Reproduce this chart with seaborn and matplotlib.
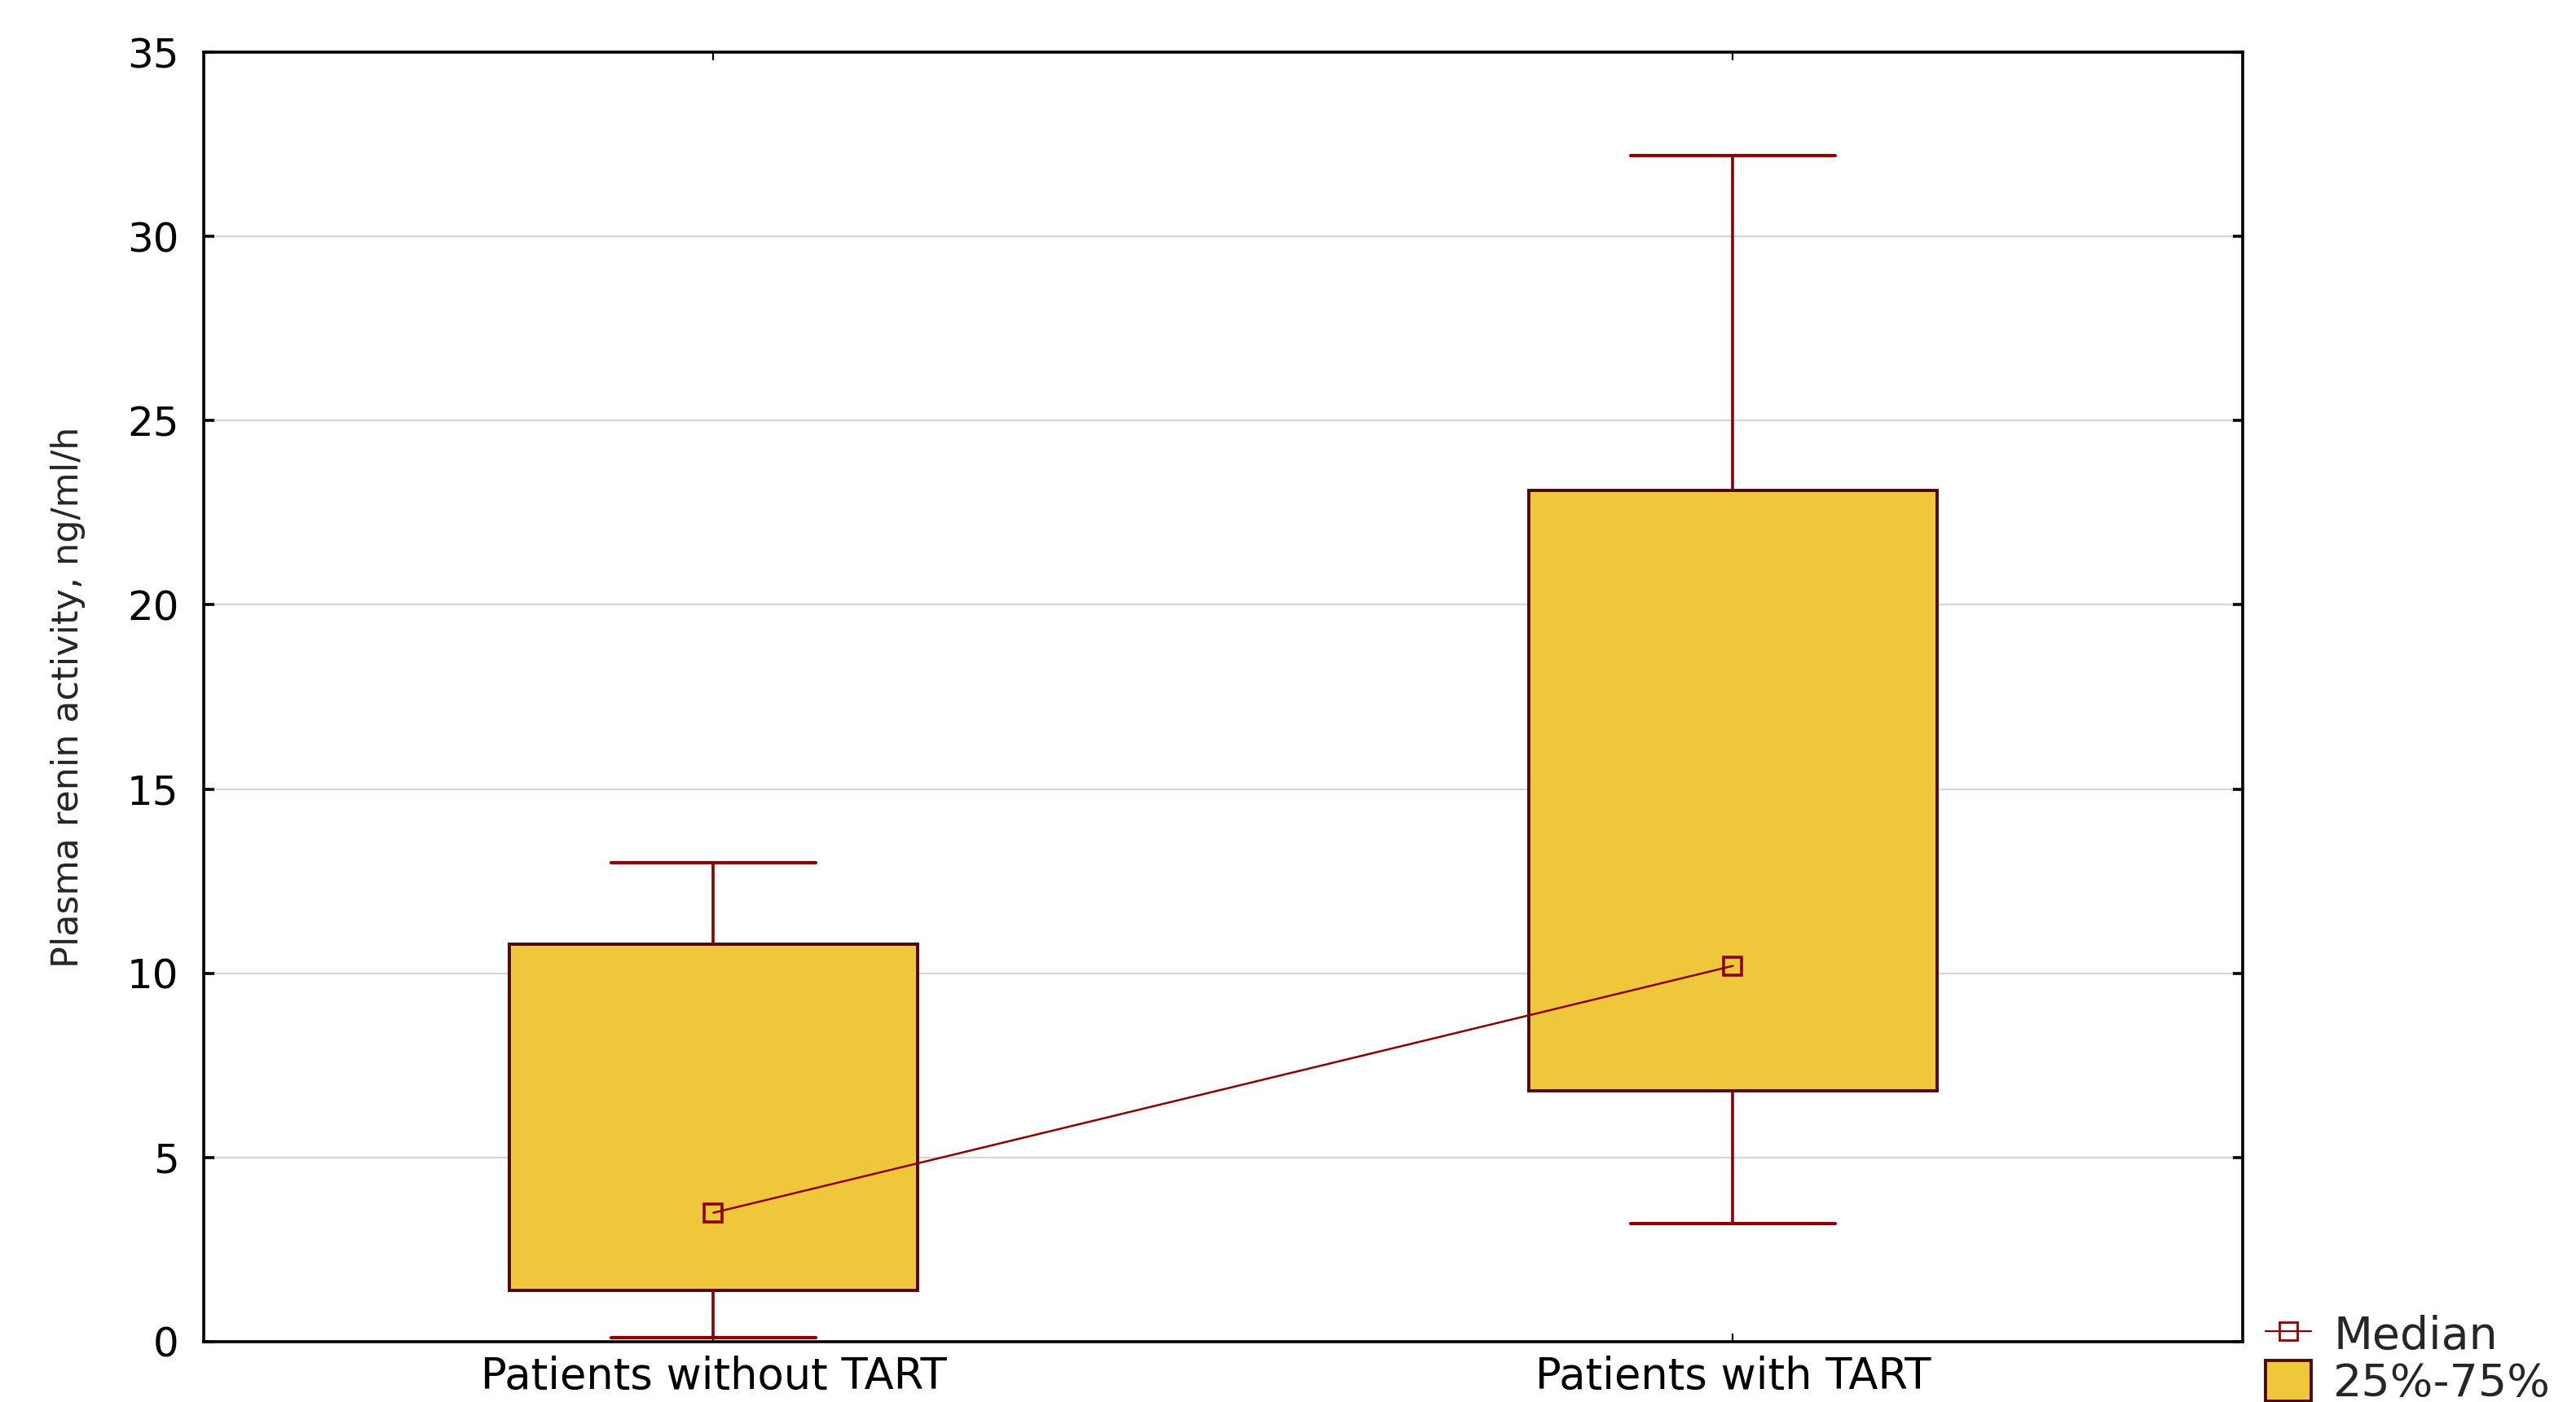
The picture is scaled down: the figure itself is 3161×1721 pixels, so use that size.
import matplotlib
matplotlib.use("Agg")
import matplotlib.pyplot as plt
import seaborn as sns
import pandas as pd
from matplotlib.lines import Line2D
from matplotlib.patches import Patch

# ---- data ----
groups = ["Patients without TART", "Patients with TART"]
# five-number summaries: min, 25%, median, 75%, max
without_tart = [0.1, 1.4, 3.5, 10.8, 13.0]
with_tart = [3.2, 6.8, 10.2, 23.1, 32.2]
medians = [without_tart[2], with_tart[2]]
y_ticks = [0, 5, 10, 15, 20, 25, 30, 35]
y_label = "Plasma renin activity, ng/ml/h"
legend_labels = ["Median", "25%-75%"]

FILL = "#EEC73A"
BOX_EDGE = "#4E0808"
RED = "#8E0000"

df = pd.DataFrame({
    "group": [groups[0]] * len(without_tart) + [groups[1]] * len(with_tart),
    "value": without_tart + with_tart,
})

sns.set_theme(style="white")
plt.rcParams["font.family"] = ["DejaVu Sans"]

DPI = 200
fig = plt.figure(figsize=(3161 / DPI, 1721 / DPI), dpi=DPI)
ax = fig.add_axes([250 / 3161, 1 - 1647 / 1721, (2752 - 250) / 3161, (1647 - 64) / 1721])

ax.set_axisbelow(True)
ax.yaxis.grid(True, color="#d6d6d6", linewidth=0.8)

sns.boxplot(
    data=df, x="group", y="value", order=groups, ax=ax,
    whis=(0, 100), width=0.4, showfliers=False,
    boxprops=dict(facecolor=FILL, edgecolor=BOX_EDGE, linewidth=1.4),
    whiskerprops=dict(color=RED, linewidth=1.3),
    capprops=dict(color=RED, linewidth=1.5),
    medianprops=dict(visible=False),
)

sns.pointplot(
    x=groups, y=medians, order=groups, ax=ax, errorbar=None,
    color=RED, markers="s", linestyles="-",
    markersize=8, markerfacecolor="none", markeredgecolor=RED,
    markeredgewidth=1.3, linewidth=0.9,
)

ax.set_xlim(-0.5, 1.5)
ax.set_ylim(0, 35)
ax.set_yticks(y_ticks)
ax.set_yticklabels([str(v) for v in y_ticks])
ax.set_xlabel("")
ax.set_ylabel(y_label, fontsize=16)
ax.yaxis.set_label_coords(-0.058, 0.5)

for s in ax.spines.values():
    s.set_visible(True)
    s.set_color("black")
    s.set_linewidth(1.3)

ax.tick_params(axis="both", direction="in", colors="black",
               top=True, right=True, bottom=True, left=True)
ax.tick_params(axis="y", length=4.5, width=1.3, pad=11, labelsize=18)
ax.tick_params(axis="x", length=3.5, width=0.8, pad=6, labelsize=19)

handles = [
    Line2D([0], [0], color=RED, marker="s", markersize=8, markerfacecolor="none",
           markeredgecolor=RED, markeredgewidth=1.0, linewidth=0.8),
    Patch(facecolor=FILL, edgecolor=BOX_EDGE, linewidth=1.4),
]
fig.legend(handles, legend_labels, loc="center left",
           bbox_to_anchor=(2780 / 3161, (1721 - 1669) / 1721),
           frameon=False, fontsize=20, handlelength=1.0, handleheight=1.0,
           handletextpad=0.5, labelspacing=0.05, borderpad=0, borderaxespad=0)

fig.savefig("out.png", dpi=DPI)
